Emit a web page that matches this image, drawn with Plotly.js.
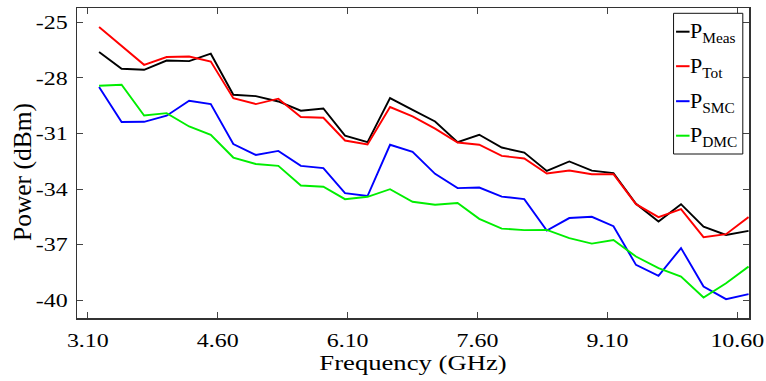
<!DOCTYPE html>
<html>
<head>
<meta charset="utf-8">
<script src="https://cdn.plot.ly/plotly-3.0.1.min.js"></script>
<style>html,body{margin:0;padding:0;background:#fff;overflow:hidden;}#chart{width:766px;height:381px;}</style>
</head>
<body>
<div id="chart"></div>
<script>
var freq = [3.23, 3.49, 3.75, 4.01, 4.27, 4.52, 4.78, 5.04, 5.30, 5.56, 5.82, 6.07, 6.33, 6.59, 6.85, 7.11, 7.37, 7.62, 7.88, 8.14, 8.40, 8.66, 8.92, 9.17, 9.43, 9.69, 9.95, 10.21, 10.47, 10.73];
var pMeas = [-26.60, -27.50, -27.56, -27.06, -27.09, -26.69, -28.91, -28.98, -29.27, -29.77, -29.65, -31.12, -31.47, -29.09, -29.72, -30.35, -31.47, -31.07, -31.76, -32.03, -33.02, -32.51, -33.01, -33.14, -34.80, -35.76, -34.82, -36.03, -36.48, -36.26];
var pTot = [-25.25, -26.26, -27.29, -26.87, -26.84, -27.11, -29.09, -29.41, -29.12, -30.11, -30.15, -31.38, -31.59, -29.57, -30.08, -30.74, -31.49, -31.61, -32.21, -32.35, -33.16, -33.00, -33.20, -33.20, -34.82, -35.52, -35.09, -36.60, -36.44, -35.52];
var pSMC = [-28.49, -30.38, -30.37, -30.04, -29.23, -29.41, -31.57, -32.16, -31.94, -32.75, -32.87, -34.22, -34.38, -31.61, -31.99, -33.18, -33.95, -33.92, -34.41, -34.55, -36.24, -35.57, -35.50, -36.01, -38.10, -38.69, -37.19, -39.27, -39.95, -39.68];
var pDMC = [-28.42, -28.37, -30.03, -29.90, -30.62, -31.07, -32.30, -32.65, -32.75, -33.81, -33.88, -34.55, -34.42, -34.01, -34.69, -34.85, -34.76, -35.61, -36.14, -36.22, -36.21, -36.65, -36.95, -36.76, -37.65, -38.28, -38.73, -39.86, -39.09, -38.19];
var seriesNames = ['P<sub>Meas</sub>', 'P<sub>Tot</sub>', 'P<sub>SMC</sub>', 'P<sub>DMC</sub>'];
var xTickVals = [3.1, 4.6, 6.1, 7.6, 9.1, 10.6];
var xTickText = ['3.10', '4.60', '6.10', '7.60', '9.10', '10.60'];
var yTickVals = [-40, -37, -34, -31, -28, -25];
var yTickText = ['-40', '-37', '-34', '-31', '-28', '-25'];
var xTitle = 'Frequency (GHz)';
var yTitle = 'Power (dBm)';

var colors = ['#000000', '#ff0000', '#0000ff', '#00ee00'];
var ys = [pMeas, pTot, pSMC, pDMC];

var W = 766, H = 381, ML = 77, MR = 16.5, MT = 8, MB = 63;
var plotW = W - ML - MR, plotH = H - MT - MB;
function px(p) { return (p - ML) / plotW; }
function py(p) { return (H - MB - p) / plotH; }

var data = ys.map(function (y, i) {
  return {x: freq, y: y, type: 'scatter', mode: 'lines', name: seriesNames[i],
          showlegend: false, line: {color: colors[i], width: 1.9}};
});

var serif = 'Liberation Serif, Times New Roman, serif';

// hand-drawn legend (box, short line samples, labels)
var legTop = 13.3, legBottom = 154, legLeft = 674, legRight = 743.3;
var legRows = [31.7, 66.2, 101.2, 135.7];
var shapes = [{type: 'rect', xref: 'paper', yref: 'paper', x0: px(legLeft), x1: px(legRight),
               y0: py(legBottom), y1: py(legTop), line: {color: '#111', width: 1}, fillcolor: '#fff', layer: 'above'}];
var annotations = [];
legRows.forEach(function (ry, i) {
  shapes.push({type: 'line', xref: 'paper', yref: 'paper', x0: px(676.5), x1: px(690), y0: py(ry), y1: py(ry),
               line: {color: colors[i], width: 2}, layer: 'above'});
  annotations.push({xref: 'paper', yref: 'paper', x: px(688), y: py(ry + 0.5), xanchor: 'left', yanchor: 'middle',
                    text: seriesNames[i], showarrow: false, font: {family: serif, size: 22, color: '#000'}});
});
// y-axis title, placed where the reference has it (slightly below the axis middle)
annotations.push({xref: 'paper', yref: 'paper', x: px(22), y: py(172), xanchor: 'center', yanchor: 'middle',
                  textangle: -90, text: yTitle, showarrow: false, font: {family: serif, size: 25.5, color: '#000'}});

var layout = {
  width: W, height: H,
  margin: {l: ML, r: MR, t: MT, b: MB},
  paper_bgcolor: '#fff', plot_bgcolor: '#fff',
  font: {family: serif, size: 19, color: '#000'},
  showlegend: false,
  shapes: shapes,
  annotations: annotations,
  xaxis: {range: [2.975, 10.735], tickvals: xTickVals, ticktext: xTickText,
          ticks: 'inside', ticklen: 6, tickcolor: '#444', showline: true, linecolor: '#333', linewidth: 1.5,
          mirror: 'ticks', showgrid: false, zeroline: false, ticklabelstandoff: 5,
          tickfont: {family: serif, size: 19, color: '#000'},
          title: {text: xTitle, font: {family: serif, size: 20.5, color: '#000'}, standoff: 5}},
  yaxis: {range: [-40.97, -24.22], tickvals: yTickVals, ticktext: yTickText,
          ticks: 'inside', ticklen: 6, tickcolor: '#444', showline: true, linecolor: '#333', linewidth: 1.5,
          mirror: 'ticks', showgrid: false, zeroline: false, ticklabelstandoff: 4,
          tickfont: {family: serif, size: 19, color: '#000'}}
};

// the reference renders horizontal axis texts noticeably wider than plain Times; widen them a little
function widen(gd) {
  var items = [['g.xtick text', 1.26], ['g.ytick text', 1.26], ['text.xtitle', 1.3]];
  items.forEach(function (it) {
    gd.querySelectorAll(it[0]).forEach(function (t) {
      var L = t.getComputedTextLength();
      if (L > 0) {
        t.setAttribute('textLength', (L * it[1]).toFixed(2));
        t.setAttribute('lengthAdjust', 'spacingAndGlyphs');
      }
    });
  });
}
Plotly.newPlot('chart', data, layout, {displayModeBar: false, staticPlot: true}).then(widen);
</script>
</body>
</html>
